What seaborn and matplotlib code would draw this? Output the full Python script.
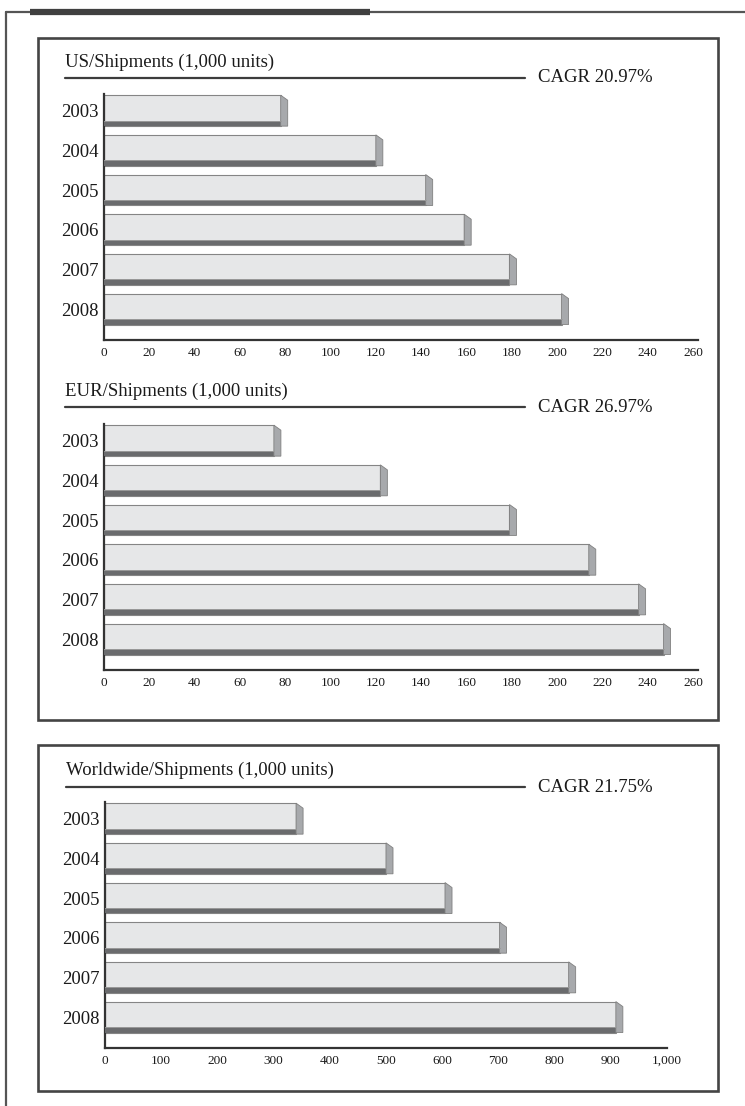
import matplotlib
matplotlib.use("Agg")
import matplotlib.pyplot as plt
import seaborn as sns
import pandas as pd
from matplotlib.patches import Polygon, Rectangle
from matplotlib.lines import Line2D

# data
years = ["2003", "2004", "2005", "2006", "2007", "2008"]
us_values = [78, 120, 142, 159, 179, 202]
eur_values = [75, 122, 179, 214, 236, 247]
ww_values = [340, 500, 605, 702, 825, 909]

us_ticks = list(range(0, 261, 20))
eur_ticks = list(range(0, 261, 20))
ww_ticks = list(range(0, 1001, 100))
ww_tick_labels = ["0", "100", "200", "300", "400", "500", "600", "700", "800", "900", "1,000"]

titles = ["US/Shipments (1,000 units)", "EUR/Shipments (1,000 units)",
          "Worldwide/Shipments (1,000 units)"]
cagr_labels = ["CAGR 20.97%", "CAGR 26.97%", "CAGR 21.75%"]

W, H = 745, 1106
FRONT = "#e6e7e8"
BAND = "#6a6b6d"
SIDE = "#a7a9ac"
DARK = "#3c3c3c"
TXT = "#1a1a1a"


def fx(x):
    return x / W


def fy(y):
    return 1 - y / H


sns.set_style("white")
plt.rcParams["font.family"] = ["Liberation Serif", "DejaVu Serif"]

fig = plt.figure(figsize=(W / 100, H / 100), dpi=100)

# outer page frame
fig.add_artist(Line2D([fx(6), fx(6)], [fy(12), fy(1106)], transform=fig.transFigure,
                      color="#555555", lw=1.6))
fig.add_artist(Line2D([fx(6), fx(745)], [fy(12), fy(12)], transform=fig.transFigure,
                      color="#555555", lw=1.6))
fig.add_artist(Line2D([fx(30), fx(370)], [fy(12), fy(12)], transform=fig.transFigure,
                      color="#404040", lw=4.5, solid_capstyle="butt"))

# panel boxes
for top, bottom in [(38, 720), (745, 1091)]:
    fig.add_artist(Rectangle((fx(38), fy(bottom)), (718 - 38) / W, (bottom - top) / H,
                             transform=fig.transFigure, fill=False, ec="#444444", lw=1.9))

panels = [
    dict(values=us_values, ticks=us_ticks, labels=[str(t) for t in us_ticks],
         left=104, right=697.5, xmax=262, axis_y=340, title_y=62, line_y=78, tx=65),
    dict(values=eur_values, ticks=eur_ticks, labels=[str(t) for t in eur_ticks],
         left=104, right=697.5, xmax=262, axis_y=670, title_y=391, line_y=407, tx=65),
    dict(values=ww_values, ticks=ww_ticks, labels=ww_tick_labels,
         left=105, right=667, xmax=1000, axis_y=1048, title_y=770, line_y=787, tx=66),
]

ax_h = 246
for i, p in enumerate(panels):
    ax = fig.add_axes([fx(p["left"]), fy(p["axis_y"]), (p["right"] - p["left"]) / W, ax_h / H])
    df = pd.DataFrame({"year": years, "value": p["values"]})
    sns.barplot(data=df, x="value", y="year", orient="h", color=FRONT, saturation=1,
                width=0.78, errorbar=None, edgecolor="#858585", linewidth=0.8, ax=ax)
    ax.set_xlim(0, p["xmax"])
    ax.set_ylim(5.78, -0.42)
    ax.set_xticks(p["ticks"])
    ax.set_xticklabels(p["labels"])
    ax.set_xlabel("")
    ax.set_ylabel("")
    ax.patch.set_alpha(0)
    for s in ["top", "right"]:
        ax.spines[s].set_visible(False)
    for s in ["left", "bottom"]:
        ax.spines[s].set_color("#333333")
        ax.spines[s].set_linewidth(1.6)
    ax.tick_params(axis="x", direction="in", length=4, width=1.3, color="#333333",
                   pad=5, labelsize=9.5, labelcolor=TXT)
    ax.tick_params(axis="y", length=0, pad=4, labelsize=13.5, labelcolor=TXT)

    # fake 3d: bottom band and right side of every bar
    ppx = ax.bbox.width / p["xmax"]
    ppy = ax.bbox.height / 6.2
    dx, dy, band = 7 / ppx, 5 / ppy, 5.5 / ppy
    for bar in list(ax.patches):
        L = bar.get_width()
        top = bar.get_y()
        bottom = top + bar.get_height()
        ax.add_patch(Rectangle((0, bottom - band), L, band, fc=BAND, ec="none", zorder=3))
        ax.plot([0, L], [bottom - band, bottom - band], color="#9a9a9a", lw=0.7, zorder=3.1)
        ax.add_patch(Polygon([(L, top), (L + dx, top + dy), (L + dx, bottom), (L, bottom)],
                             closed=True, fc=SIDE, ec="#808080", lw=0.6, zorder=3,
                             clip_on=False))

    # title, rule and CAGR note
    fig.text(fx(p["tx"]), fy(p["title_y"]), titles[i], fontsize=13.5, color=TXT,
             ha="left", va="center")
    fig.add_artist(Line2D([fx(p["tx"]), fx(525)], [fy(p["line_y"])] * 2,
                          transform=fig.transFigure, color=DARK, lw=1.6))
    fig.text(fx(538), fy(p["line_y"]), cagr_labels[i], fontsize=13.5, color=TXT,
             ha="left", va="center")

fig.savefig("out.png", dpi=100)
